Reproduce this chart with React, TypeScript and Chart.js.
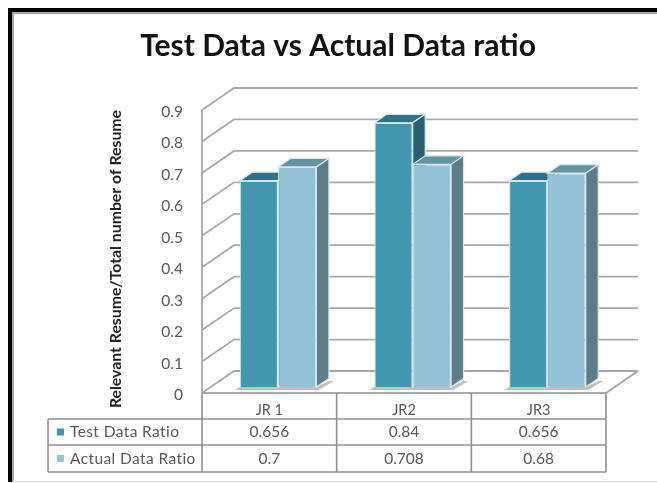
import React, { useEffect, useRef } from "react";
import { Chart, registerables } from "chart.js";

Chart.register(...registerables);

const categories = ["JR 1", "JR2", "JR3"];
const testRatio = [0.656, 0.84, 0.656];
const actualRatio = [0.7, 0.708, 0.68];
const seriesNames = ["Test Data Ratio", "Actual Data Ratio"];
const frontColors = ["#4297b0", "#93c3d6"];
const topColors = ["#2e7486", "#6593a3"];
const sideColors = ["#265f6f", "#5d7d8a"];
const titleText = "Test Data vs Actual Data ratio";
const yTitleText = "Relevant Resume/Total number of Resume";

const FONT = "Lato, 'Open Sans', sans-serif";
const TEXT = "#575757";
const GRID = "#a8a8a8";
const TABLE_LINE = "#909090";
const EDGE = "#d6e8ee";
const wall = { dx: 32, dy: -22 };
const barOffset = { dx: 8.7, dy: -6 };
const barDepth = { dx: 12.5, dy: -8.5 };
const table = { left: 48, rows: [419, 445, 472], swatchX: 57, swatchSize: 7, textX: 70 };

function line(ctx: CanvasRenderingContext2D, pts: number[][]) {
  ctx.beginPath();
  pts.forEach((p, i) => (i ? ctx.lineTo(p[0], p[1]) : ctx.moveTo(p[0], p[1])));
  ctx.stroke();
}

function poly(ctx: CanvasRenderingContext2D, pts: number[][], fill: string, stroke?: string) {
  ctx.beginPath();
  pts.forEach((p, i) => (i ? ctx.lineTo(p[0], p[1]) : ctx.moveTo(p[0], p[1])));
  ctx.closePath();
  ctx.fillStyle = fill;
  ctx.fill();
  if (stroke) {
    ctx.strokeStyle = stroke;
    ctx.lineWidth = 1.2;
    ctx.stroke();
  }
}

const threeD = {
  id: "threeD",
  beforeDatasetsDraw(chart: any) {
    const { ctx, scales, chartArea } = chart;
    const y = scales.y;
    const { left, right, bottom, top } = chartArea;
    ctx.save();
    ctx.strokeStyle = GRID;
    ctx.lineWidth = 1.8;
    y.ticks.forEach((t: any) => {
      const py = y.getPixelForValue(t.value);
      line(ctx, [
        [left, py],
        [left + wall.dx, py + wall.dy],
        [right + wall.dx, py + wall.dy],
      ]);
    });
    line(ctx, [[left, top], [left, bottom]]);
    line(ctx, [
      [left, bottom],
      [right, bottom],
      [right + wall.dx, bottom + wall.dy],
    ]);
    ctx.restore();

    ctx.save();
    ctx.translate(barOffset.dx, barOffset.dy);
    const first = chart.getDatasetMeta(0).data;
    const second = chart.getDatasetMeta(1).data;
    first.forEach((a: any, i: number) => {
      const b = second[i];
      const l = a.x - a.width / 2;
      const r = b.x + b.width / 2;
      poly(ctx, [
        [l - 5, a.base + 3],
        [r + 2, a.base + 3],
        [r + barDepth.dx + 5, a.base - 6],
        [r + barDepth.dx, a.base - 6],
        [r, a.base],
        [l, a.base],
      ], "rgba(130,130,130,0.5)");
    });
    [0, 1].forEach((d) => {
      chart.getDatasetMeta(d).data.forEach((el: any) => {
        const l = el.x - el.width / 2;
        const r = el.x + el.width / 2;
        poly(ctx, [
          [l, el.y],
          [r, el.y],
          [r + barDepth.dx, el.y + barDepth.dy],
          [l + barDepth.dx, el.y + barDepth.dy],
        ], topColors[d], EDGE);
        poly(ctx, [
          [r, el.y],
          [r + barDepth.dx, el.y + barDepth.dy],
          [r + barDepth.dx, el.base + barDepth.dy],
          [r, el.base],
        ], sideColors[d], EDGE);
      });
    });
  },
  afterDatasetsDraw(chart: any) {
    chart.ctx.restore();
  },
  afterDraw(chart: any) {
    const { ctx, chartArea } = chart;
    const { left, right, bottom } = chartArea;
    const colW = (right - left) / categories.length;
    const [r1, r2, r3] = table.rows;
    ctx.save();
    ctx.strokeStyle = TABLE_LINE;
    ctx.lineWidth = 1.6;
    line(ctx, [[left, bottom], [left, r3]]);
    categories.forEach((_, i) => {
      const cx = left + colW * (i + 1);
      line(ctx, [[cx, bottom], [cx, r3]]);
    });
    line(ctx, [[table.left, r1], [right, r1]]);
    line(ctx, [[table.left, r2], [right, r2]]);
    line(ctx, [[table.left, r3], [right, r3]]);
    line(ctx, [[table.left, r1], [table.left, r3]]);

    const rows = [testRatio, actualRatio];
    ctx.textBaseline = "middle";
    rows.forEach((vals, d) => {
      const top = table.rows[d];
      const cy = (top + table.rows[d + 1]) / 2;
      ctx.fillStyle = frontColors[d];
      ctx.fillRect(table.swatchX, cy - table.swatchSize / 2, table.swatchSize, table.swatchSize);
      ctx.fillStyle = TEXT;
      ctx.textAlign = "left";
      ctx.font = `15.5px ${FONT}`;
      (ctx as any).letterSpacing = "0.4px";
      ctx.fillText(seriesNames[d], table.textX, cy);
      (ctx as any).letterSpacing = "0px";
      ctx.textAlign = "center";
      ctx.font = `15.5px ${FONT}`;
      vals.forEach((v, i) => {
        ctx.fillText(String(v), left + colW * (i + 0.5), cy);
      });
    });
    ctx.restore();
  },
};

export default function App() {
  const ref = useRef<HTMLCanvasElement>(null);
  useEffect(() => {
    if (!ref.current) return;
    const chart = new Chart(ref.current, {
      type: "bar",
      data: {
        labels: categories,
        datasets: [
          {
            label: seriesNames[0],
            data: testRatio,
            backgroundColor: frontColors[0],
            borderColor: EDGE,
            borderWidth: 1.2,
            clip: false,
          } as any,
          {
            label: seriesNames[1],
            data: actualRatio,
            backgroundColor: frontColors[1],
            borderColor: EDGE,
            borderWidth: 1.2,
            clip: false,
          } as any,
        ],
      },
      options: {
        responsive: false,
        animation: false,
        layout: { padding: { left: 70, right: 51, top: 0, bottom: 0 } },
        datasets: { bar: { categoryPercentage: 0.57, barPercentage: 1 } },
        plugins: {
          legend: { display: false },
          tooltip: { enabled: false },
          title: {
            display: true,
            text: titleText,
            color: "#111111",
            font: { family: FONT, size: 30, weight: "bold" },
            padding: { top: 28, bottom: 46 },
          },
        },
        scales: {
          x: {
            afterFit: (s: any) => {
              s.height = 90;
            },
            grid: { display: false, drawTicks: false },
            border: { display: false },
            ticks: {
              color: TEXT,
              padding: 9,
              maxRotation: 0,
              font: { family: FONT, size: 14.5 },
            },
          },
          y: {
            min: 0,
            max: 0.9,
            afterFit: (s: any) => {
              s.width = 132;
            },
            grid: { display: false, drawTicks: false },
            border: { display: false },
            ticks: {
              stepSize: 0.1,
              color: TEXT,
              padding: 19,
              labelOffset: 2,
              font: { family: FONT, size: 15.5 },
            },
            title: {
              display: true,
              text: yTitleText,
              align: "end",
              color: "#222222",
              font: { family: FONT, size: 15.8, weight: "bold" },
              padding: { top: 36, bottom: 0 },
            },
          },
        },
      },
      plugins: [threeD],
    } as any);
    return () => chart.destroy();
  }, []);

  return (
    <div style={{ position: "fixed", left: 0, top: 0, width: 657, height: 483, background: "#fff", overflow: "hidden" }}>
      <canvas
        ref={ref}
        width={657}
        height={483}
        style={{ display: "block", position: "absolute", left: 0, top: 0, filter: "blur(0.5px)" }}
      />
      <div
        style={{
          position: "absolute",
          left: 8,
          top: 8,
          right: 0,
          bottom: 1,
          boxSizing: "border-box",
          borderTop: "4px solid #000",
          borderLeft: "4px solid #000",
          pointerEvents: "none",
        }}
      >
        <div
          style={{
            position: "absolute",
            inset: 0,
            boxSizing: "border-box",
            borderTop: "2px solid #a8a8a8",
            borderLeft: "2px solid #a8a8a8",
            borderBottom: "1px solid #d0d0d0",
          }}
        />
      </div>
    </div>
  );
}
